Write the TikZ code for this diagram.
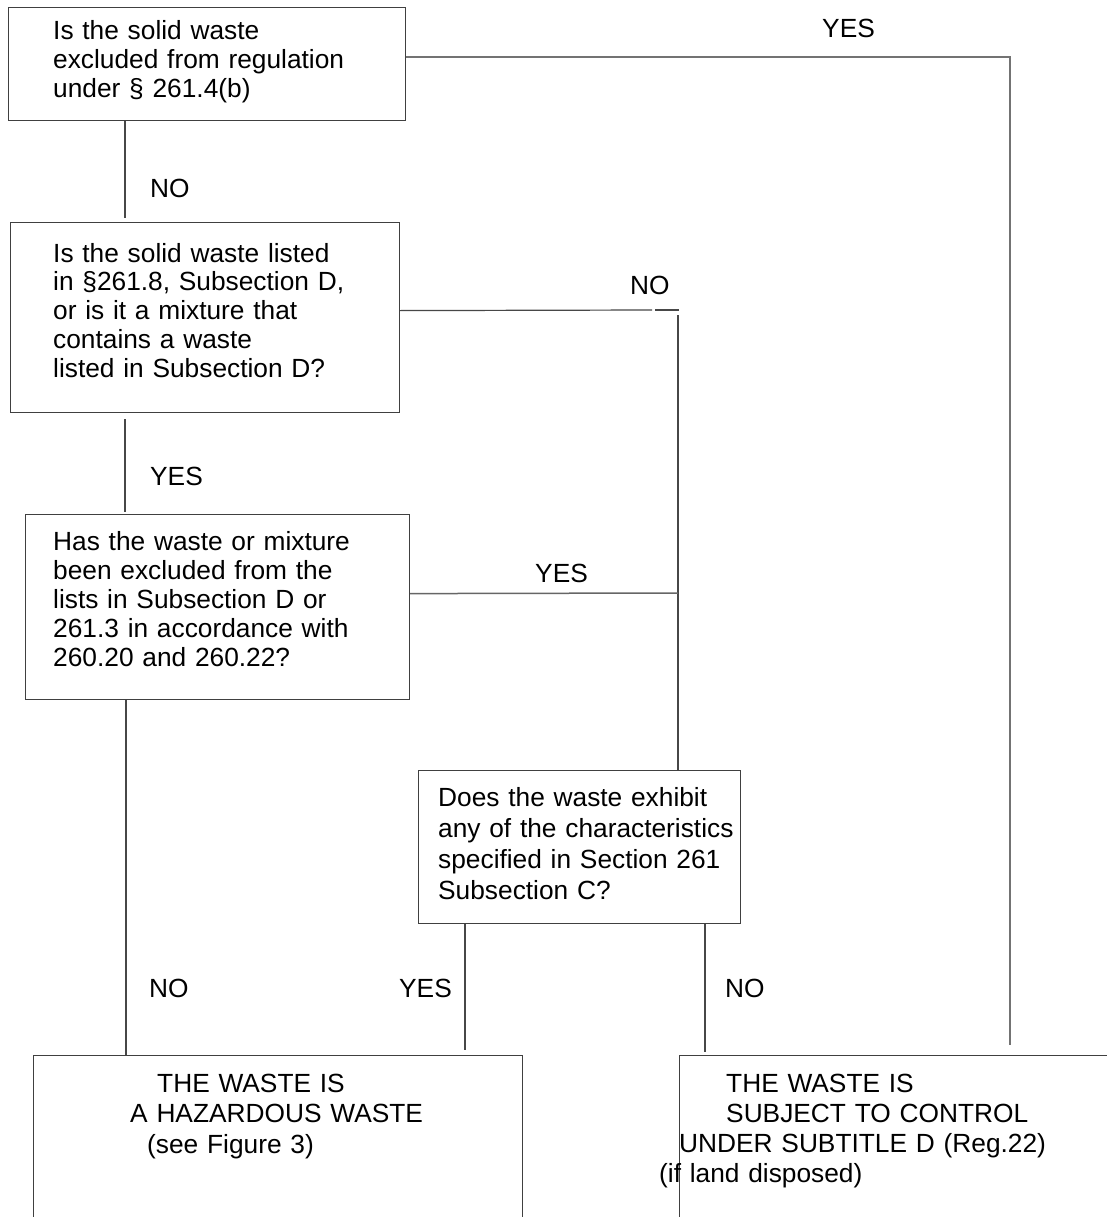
\documentclass[tikz,border=0pt]{standalone}
\usepackage{fontspec}
\setmainfont{Liberation Sans}
\usetikzlibrary{calc}
\begin{document}
\begin{tikzpicture}[x=1pt,y=-1pt,
  box/.style={draw=black!75, line width=1.2pt, inner sep=0pt, anchor=north west},
  txt/.style={inner sep=0pt, anchor=base west, align=left, text width=#1},
  lab/.style={inner sep=0pt, anchor=west},
  conn/.style={draw=black!72, line width=1.2pt},
  every node/.append style={font=\fontsize{26.3}{29}\selectfont}]
\useasboundingbox (0,0) rectangle (1107,1217);
\fill[white] (0,0) rectangle (1107,1217);
\clip (0,0) rectangle (1107,1217);
% boxes
\node[box, minimum width=397pt, minimum height=113pt] (q1) at (8,7) {};
\node[box, minimum width=389pt, minimum height=190pt] (q2) at (10,222) {};
\node[box, minimum width=384pt, minimum height=185pt] (q3) at (25,514) {};
\node[box, minimum width=322pt, minimum height=153pt] (q4) at (418,770) {};
\node[box, minimum width=489pt, minimum height=250pt] (r1) at (33,1055) {};
\node[box, minimum width=500pt, minimum height=250pt] (r2) at (679,1055) {};
% texts
\node[txt=360pt, font=\fontsize{26.3}{29}\selectfont] (t1) at (53,40) {Is the solid waste\\excluded from regulation\\under § 261.4(b)};
\node[txt=345pt, font=\fontsize{26.3}{28.8}\selectfont] (t2) at (53,262) {Is the solid waste listed\\in §261.8, Subsection D,\\or is it a mixture that\\contains a waste\\listed in Subsection D?};
\node[txt=350pt, font=\fontsize{26.3}{29}\selectfont] (t3) at (53,550) {Has the waste or mixture\\been excluded from the\\lists in Subsection D or\\261.3 in accordance with\\260.20 and 260.22?};
\node[txt=300pt, font=\fontsize{26.3}{31}\selectfont] (t4) at (438,806) {Does the waste exhibit\\any of the characteristics\\specified in Section 261\\Subsection C?};
\node[txt=380pt, font=\fontsize{26.3}{30.5}\selectfont] (t5) at (130,1092) {\hspace*{27pt}THE WASTE IS\\A HAZARDOUS WASTE\\\hspace*{17pt}(see Figure 3)};
\node[txt=440pt, font=\fontsize{26.3}{30}\selectfont] (t6) at (659,1092) {\hspace*{67pt}THE WASTE IS\\\hspace*{67pt}SUBJECT TO CONTROL\\\hspace*{20pt}UNDER SUBTITLE D (Reg.22)\\(if land disposed)};
% coordinates
\coordinate (e1) at (1010,1045);
\coordinate (j1) at (652,310);
\coordinate (j2) at (655,310);
\coordinate (j3) at (679,310);
\coordinate (j4) at (678,315);
\coordinate (j5) at (678,593);
% connectors
\draw[conn] ($(q1.south west)+(117,0)$) -- ($(q2.north west)+(115,-4)$);
\draw[conn, draw=black!55, line width=1.6pt] ($(q1.north east)+(0,50)$) -| (e1);
\draw[conn] ($(q2.east)+(0,-7)$) -- (j1);
\draw[conn] (j2) -- (j3);
\draw[conn] (j4) -- ($(q4.north west)+(260,0)$);
\draw[conn] ($(q2.south west)+(115,6)$) -- ($(q3.north west)+(100,-2)$);
\draw[conn, draw=black!60, line width=1.5pt] ($(q3.east)+(0,-13.5)$) -- (j5);
\draw[conn] ($(q3.south west)+(101,0)$) -- ($(r1.north west)+(93,0)$);
\draw[conn] ($(q4.south west)+(47,0)$) -- ($(r1.north west)+(432,-5)$);
\draw[conn] ($(q4.south west)+(287,0)$) -- ($(r2.north west)+(26,-3)$);
% labels
\node[lab] (l1) at (822,28) {YES};
\node[lab] (l2) at (150,188) {NO};
\node[lab] (l3) at (630,285) {NO};
\node[lab] (l4) at (150,476) {YES};
\node[lab] (l5) at (535,573) {YES};
\node[lab] (l6) at (149,988) {NO};
\node[lab] (l7) at (399,988) {YES};
\node[lab] (l8) at (725,988) {NO};
\end{tikzpicture}
\end{document}
